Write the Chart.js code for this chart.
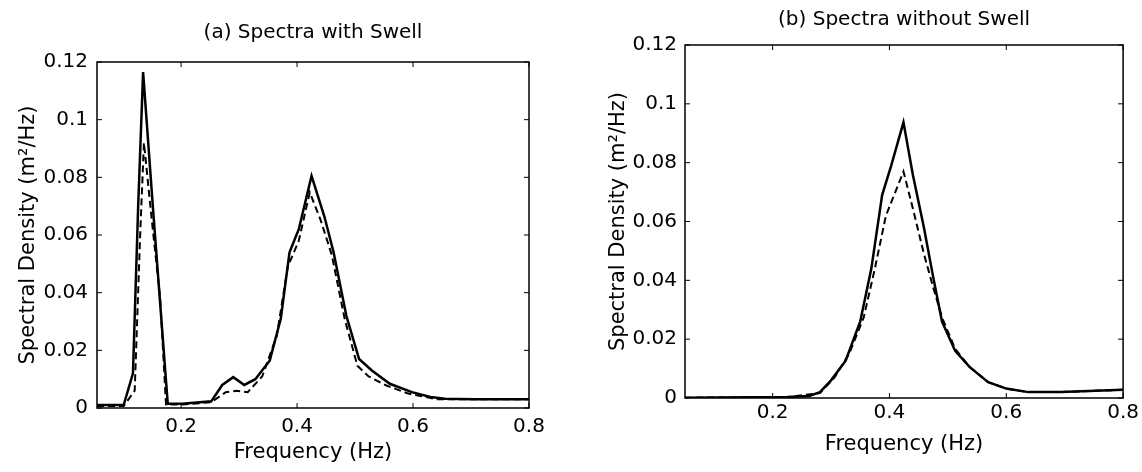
<!DOCTYPE html>
<html>
<head>
<meta charset="utf-8">
<script src="https://cdn.jsdelivr.net/npm/chart.js@4.4.0/dist/chart.umd.min.js"></script>
<style>
  html, body { margin: 0; padding: 0; background: #fff; overflow: hidden; }
  .panel { position: absolute; top: 0; width: 571px; height: 472px; }
</style>
</head>
<body>
<div class="panel" style="left:0"><canvas id="chartA" width="571" height="472"></canvas></div>
<div class="panel" style="left:571px"><canvas id="chartB" width="571" height="472"></canvas></div>
<script>
// tick values and labels (both panels)
const xTicks = [0.2, 0.4, 0.6, 0.8];
const xTickLabels = ['0.2', '0.4', '0.6', '0.8'];
const yTicks = [0, 0.02, 0.04, 0.06, 0.08, 0.1, 0.12];
const yTickLabels = ['0', '0.02', '0.04', '0.06', '0.08', '0.1', '0.12'];

// (a) spectra with swell - solid
const freqA1 = [0.055, 0.101, 0.117, 0.126, 0.1345, 0.152, 0.164, 0.177, 0.202, 0.252, 0.271, 0.290, 0.309, 0.328, 0.353, 0.372, 0.387, 0.403, 0.425, 0.447, 0.463, 0.485, 0.507, 0.529, 0.560, 0.598, 0.630, 0.655, 0.705, 0.8];
const densA1 = [0.001, 0.001, 0.012, 0.07, 0.1165, 0.068, 0.036, 0.0015, 0.0015, 0.0023, 0.008, 0.0107, 0.008, 0.010, 0.0165, 0.031, 0.054, 0.062, 0.0805, 0.0665, 0.054, 0.032, 0.017, 0.013, 0.0084, 0.0055, 0.0038, 0.0032, 0.003, 0.003];
// (a) spectra with swell - dashed
const freqA2 = [0.055, 0.101, 0.120, 0.1296, 0.136, 0.148, 0.164, 0.174, 0.202, 0.252, 0.277, 0.296, 0.315, 0.340, 0.365, 0.384, 0.403, 0.412, 0.422, 0.441, 0.460, 0.482, 0.504, 0.523, 0.554, 0.592, 0.642, 0.8];
const densA2 = [0.0007, 0.0007, 0.006, 0.061, 0.092, 0.068, 0.038, 0.0012, 0.0012, 0.002, 0.0055, 0.006, 0.0055, 0.011, 0.025, 0.049, 0.058, 0.066, 0.0748, 0.065, 0.053, 0.031, 0.0147, 0.011, 0.0078, 0.005, 0.003, 0.003];

// (b) spectra without swell - solid
const freqB1 = [0.05, 0.225, 0.2625, 0.281, 0.300, 0.325, 0.350, 0.369, 0.3875, 0.403, 0.424, 0.440, 0.459, 0.475, 0.490, 0.5125, 0.5375, 0.569, 0.600, 0.6375, 0.694, 0.8];
const densB1 = [0.0001, 0.0003, 0.0007, 0.002, 0.006, 0.0127, 0.026, 0.044, 0.069, 0.079, 0.0937, 0.076, 0.058, 0.041, 0.026, 0.016, 0.0105, 0.0054, 0.0032, 0.002, 0.002, 0.0028];
// (b) spectra without swell - dashed
const freqB2 = [0.05, 0.225, 0.281, 0.306, 0.331, 0.356, 0.375, 0.394, 0.406, 0.424, 0.440, 0.459, 0.475, 0.490, 0.5125, 0.5375, 0.569, 0.600, 0.6375, 0.694, 0.8];
const densB2 = [0.0001, 0.0003, 0.0017, 0.007, 0.015, 0.0274, 0.044, 0.062, 0.068, 0.0770, 0.0645, 0.049, 0.0375, 0.0274, 0.0167, 0.0105, 0.0054, 0.0032, 0.002, 0.002, 0.0028];

const fontFamily = '"DejaVu Sans", "Liberation Sans", Arial, sans-serif';

const toPoints = (xs, ys) => xs.map((x, i) => ({ x: x, y: ys[i] }));

// matlab style box with inward ticks
const boxPlugin = {
    id: 'boxPlugin',
    afterDatasetsDraw(chart) {
        const { ctx, chartArea: a, scales: { x, y } } = chart;
        ctx.save();
        ctx.strokeStyle = '#000';
        ctx.lineWidth = 1.5;
        ctx.strokeRect(a.left, a.top, a.right - a.left, a.bottom - a.top);
        ctx.lineWidth = 1;
        ctx.beginPath();
        xTicks.forEach(v => {
            const px = x.getPixelForValue(v);
            ctx.moveTo(px, a.bottom); ctx.lineTo(px, a.bottom - 5);
            ctx.moveTo(px, a.top); ctx.lineTo(px, a.top + 5);
        });
        yTicks.forEach(v => {
            const py = y.getPixelForValue(v);
            ctx.moveTo(a.left, py); ctx.lineTo(a.left + 5, py);
            ctx.moveTo(a.right, py); ctx.lineTo(a.right - 5, py);
        });
        ctx.stroke();
        ctx.restore();
    }
};

function makePanel(id, title, solid, dashed, g) {
    const ctx = document.getElementById(id).getContext('2d');
    return new Chart(ctx, {
        type: 'line',
        data: {
            datasets: [{
                data: dashed,
                borderColor: '#000',
                borderWidth: 2,
                borderDash: [7, 4],
                pointRadius: 0,
                tension: 0
            }, {
                data: solid,
                borderColor: '#000',
                borderWidth: 2.5,
                pointRadius: 0,
                tension: 0
            }]
        },
        options: {
            responsive: false,
            animation: false,
            layout: { padding: { left: 0, right: g.padRight, top: 0, bottom: 0 } },
            plugins: {
                legend: { display: false },
                tooltip: { enabled: false },
                title: {
                    display: true,
                    text: title,
                    fullSize: false,
                    color: '#000',
                    font: { family: fontFamily, size: 20, weight: 'normal' },
                    padding: { top: g.titleTop, bottom: g.titleBottom }
                }
            },
            scales: {
                x: {
                    type: 'linear',
                    min: g.xMin,
                    max: 0.8,
                    afterBuildTicks: s => { s.ticks = xTicks.map(v => ({ value: v })); },
                    afterFit: s => { s.height = g.xHeight; },
                    grid: { display: false, drawTicks: false },
                    border: { display: false },
                    ticks: {
                        color: '#000',
                        padding: g.xTickPad,
                        maxRotation: 0,
                        autoSkip: false,
                        font: { family: fontFamily, size: 20 },
                        callback: (v, i) => xTickLabels[i]
                    },
                    title: {
                        display: true,
                        text: 'Frequency (Hz)',
                        color: '#000',
                        font: { family: fontFamily, size: 21 },
                        padding: { top: 0, bottom: g.xTitlePad }
                    }
                },
                y: {
                    min: 0,
                    max: 0.12,
                    afterBuildTicks: s => { s.ticks = yTicks.map(v => ({ value: v })); },
                    afterFit: s => { s.width = g.yWidth; },
                    grid: { display: false, drawTicks: false },
                    border: { display: false },
                    ticks: {
                        color: '#000',
                        padding: g.yTickPad,
                        font: { family: fontFamily, size: 20 },
                        callback: (v, i) => yTickLabels[i]
                    },
                    title: {
                        display: true,
                        text: 'Spectral Density (m²/Hz)',
                        color: '#000',
                        font: { family: fontFamily, size: 21 },
                        padding: { top: g.yTitlePad, bottom: 0 }
                    }
                }
            }
        },
        plugins: [boxPlugin]
    });
}

makePanel('chartA', '(a) Spectra with Swell', toPoints(freqA1, densA1), toPoints(freqA2, densA2), {
    padRight: 42, titleTop: 21, titleBottom: 17, xMin: 0.055, xHeight: 64, xTickPad: 7,
    xTitlePad: 7, yWidth: 97, yTickPad: 9, yTitlePad: 16
});
makePanel('chartB', '(b) Spectra without Swell', toPoints(freqB1, densB1), toPoints(freqB2, densB2), {
    padRight: 16, titleTop: 8, titleBottom: 13, xMin: 0.05, xHeight: 74, xTickPad: 3,
    xTitlePad: 15, yWidth: 114, yTickPad: 8, yTitlePad: 35
});
</script>
</body>
</html>
